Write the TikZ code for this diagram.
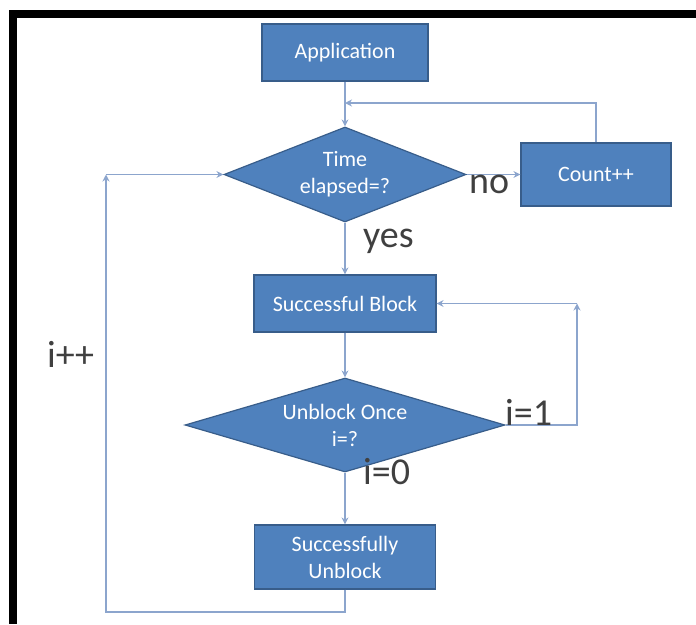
\documentclass[tikz,border=0pt]{standalone}
\usepackage{fontspec}
\setmainfont{Carlito}
\usepackage{tikz}
\usetikzlibrary{arrows.meta,shapes.geometric,positioning,calc}
\definecolor{flowFill}{RGB}{79,129,189}
\definecolor{flowEdge}{RGB}{56,93,138}
\definecolor{flowLine}{RGB}{140,165,205}
\definecolor{flowText}{RGB}{64,64,64}

\tikzset{
  procbox/.style={rectangle,draw=flowEdge,fill=flowFill,line width=1.2pt,
    text=white,font=\fontsize{22}{27}\selectfont,align=center,inner sep=0pt},
  decbox/.style={diamond,draw=flowEdge,fill=flowFill,line width=1.2pt,
    text=white,font=\fontsize{22}{27}\selectfont,align=center,inner sep=0pt},
  flowarr/.style={-{Stealth[length=7pt,width=7pt]},flowLine,line width=1.3pt},
  branchlbl/.style={anchor=base west,text=flowText,
    font=\fontsize{38}{40}\selectfont,inner sep=0pt}
}

\begin{document}
\begin{tikzpicture}[x=1pt,y=-1pt]
        \useasboundingbox (0,0) rectangle (696,624);
        % Frame
        \fill[black] (9,10) rectangle (696,18);
        \fill[black] (9,10) rectangle (17,624);
        % Boxes
        \node[procbox,minimum width=166pt,minimum height=57pt] (app)
          at (345,52.5) {Application};
        \node[decbox,minimum width=242pt,minimum height=95pt,aspect=2.55] (time)
          at (345,174.5) {Time\\elapsed=?};
        \node[procbox,minimum width=150pt,minimum height=63pt] (cnt)
          at (596,174.5) {Count++};
        \node[procbox,minimum width=182pt,minimum height=57pt] (sblock)
          at (345,303.5) {Successful Block};
        \node[decbox,minimum width=320pt,minimum height=94pt,aspect=3.4] (once)
          at (345,425) {Unblock Once\\i=?};
        \node[procbox,minimum width=181pt,minimum height=64pt] (sunblock)
          at (345,557) {Successfully\\Unblock};
        % Connectors
        \coordinate (fb) at (345,103);
        \coordinate (rt) at (577,303.5);
        \coordinate (lb) at (106,612);
        \coordinate (lt) at (106,174.5);
        \draw[flowarr] (app.south) -- (time.north);
        \draw[flowarr] (cnt.north) |- (fb);
        \draw[flowarr] (time.east) -- (cnt.west);
        \draw[flowarr] (time.south) -- (sblock.north);
        \draw[flowarr] (sblock.south) -- (once.north);
        \draw[flowarr] (once.east) -| (rt);
        \draw[flowarr] (rt) -- (sblock.east);
        \draw[flowarr] (once.south) -- (sunblock.north);
        \draw[flowarr] (sunblock.south) |- (lb) -- (lt);
        \draw[flowarr] (lt) -- (time.west);
        % Branch labels
        \node[branchlbl] (no) at (469,193) {no};
        \node[branchlbl] (yes) at (363,247) {yes};
        \node[branchlbl] (ione) at (505,425) {i=1};
        \node[branchlbl] (izero) at (363,484) {i=0};
        \node[branchlbl] (iinc) at (47,367) {i++};
\end{tikzpicture}
\end{document}
